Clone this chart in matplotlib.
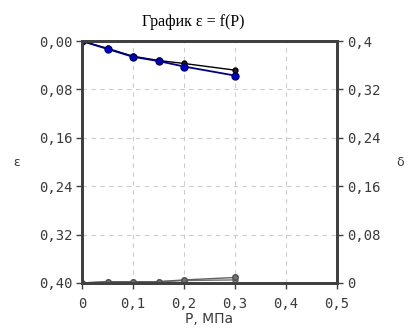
import matplotlib.pyplot as plt

# data
p = [0, 0.05, 0.1, 0.15, 0.2, 0.3]
eps_1 = [0, 0.013, 0.026, 0.033, 0.042, 0.057]
eps_2 = [0, 0.012, 0.025, 0.032, 0.037, 0.048]
delta_1 = [0, 0.002, 0.002, 0.002, 0.005, 0.009]
delta_2 = [0, 0.002, 0.002, 0.002, 0.004, 0.005]

eps_ticks = [0, 0.08, 0.16, 0.24, 0.32, 0.40]
delta_ticks = [0, 0.08, 0.16, 0.24, 0.32, 0.4]
p_ticks = [0, 0.1, 0.2, 0.3, 0.4, 0.5]

spine_col = "#404040"
text_col = "#3a3a3a"

fig = plt.figure(figsize=(4.08, 3.29), dpi=100)
ax = fig.add_axes([0.201, 0.14, 0.625, 0.735])
ax2 = ax.twinx()

# epsilon (left axis, inverted)
ax.plot(p, eps_2, color="black", lw=1, marker="o", ms=3.5, mfc="#202020", mec="black", zorder=3)
ax.plot(p, eps_1, color="#000080", lw=1.3, marker="o", ms=5, mfc="#0000cc", mec="#000060", zorder=4)
ax.set_ylim(0.40, 0)
ax.set_xlim(0, 0.5)

# delta (right axis)
ax2.plot(p, delta_2, color="#707070", lw=1, marker="o", ms=3.5, mfc="#808080", mec="#606060")
ax2.plot(p, delta_1, color="#606060", lw=1, marker="o", ms=4, mfc="#707070", mec="#505050")
ax2.set_ylim(0, 0.4)

ax.set_xticks(p_ticks)
ax.set_xticklabels([f"{v:g}".replace(".", ",") for v in p_ticks])
ax.set_yticks(eps_ticks)
ax.set_yticklabels([f"{v:.2f}".replace(".", ",") for v in eps_ticks])
ax2.set_yticks(delta_ticks)
ax2.set_yticklabels([f"{v:g}".replace(".", ",") for v in delta_ticks])

ax.grid(True, ls=(0, (4, 4)), color="#cccccc", lw=0.8)
for a in (ax, ax2):
    for s in a.spines.values():
        s.set_color(spine_col)
        s.set_linewidth(2)
    a.tick_params(direction="out", length=4, width=1, colors=spine_col,
                  labelcolor=text_col, labelsize=10, pad=3)
ax.tick_params(axis="x", pad=6)
for lab in ax.get_xticklabels() + ax.get_yticklabels() + ax2.get_yticklabels():
    lab.set_family("DejaVu Sans Mono")

ax.set_xlabel("P, МПа", fontsize=10, color=text_col, labelpad=1, family="DejaVu Sans")
ax.set_ylabel("ε", fontsize=9, color=text_col, rotation=0, labelpad=16, va="center")
ax2.set_ylabel("δ", fontsize=9, color=text_col, rotation=0, labelpad=14, va="center")
ax.set_title("График ε = f(P)", fontsize=11.5, family="Liberation Serif", pad=11, x=0.435)

fig.savefig("out.png", dpi=100)
